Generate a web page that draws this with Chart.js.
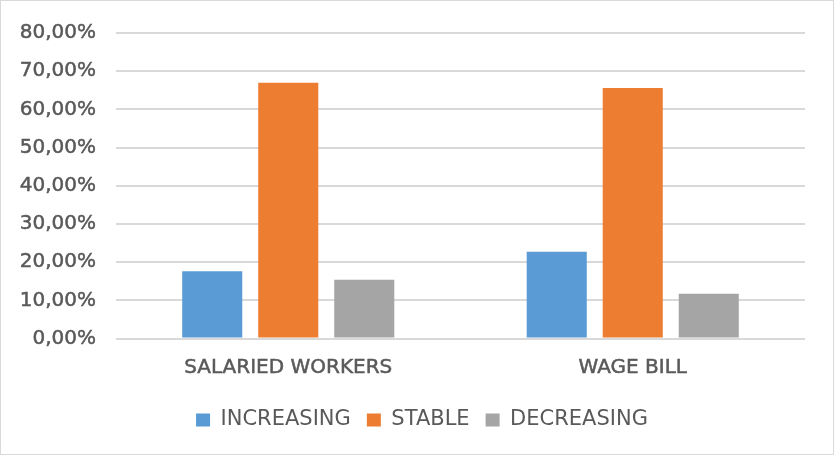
<!DOCTYPE html>
<html>
<head>
<meta charset="utf-8">
<script src="https://cdn.jsdelivr.net/npm/chart.js@4/dist/chart.umd.min.js"></script>
<style>
  html, body { margin: 0; padding: 0; background: #fff; }
  #wrap { position: relative; width: 834px; height: 455px; box-sizing: border-box; border: 1px solid #d9d9d9; }
  canvas { display: block; }
</style>
</head>
<body>
<div id="wrap"><canvas id="barChart" width="832" height="453"></canvas></div>
<script>
const categories = ['SALARIED WORKERS', 'WAGE BILL'];
const increasing = [17.6, 22.7];
const stable = [67.0, 65.6];
const decreasing = [15.4, 11.7];
const tickValues = [0, 10, 20, 30, 40, 50, 60, 70, 80];

const FONT = "'DejaVu Sans', sans-serif";
const TEXT = '#595959';

// nudge the legend row so it sits centred under the whole frame
const legendShift = {
    id: 'legendShift',
    afterLayout(chart) {
        chart.legend.left += 19;
        chart.legend.right += 19;
    }
};

const ctx = document.getElementById('barChart').getContext('2d');

new Chart(ctx, {
    type: 'bar',
    data: {
        labels: categories,
        datasets: [
            { label: 'INCREASING', data: increasing, backgroundColor: '#5b9bd5' },
            { label: 'STABLE', data: stable, backgroundColor: '#ed7d31' },
            { label: 'DECREASING', data: decreasing, backgroundColor: '#a5a5a5' }
        ]
    },
    plugins: [legendShift],
    options: {
        responsive: false,
        animation: false,
        datasets: {
            bar: { categoryPercentage: 0.662, barPercentage: 0.79 }
        },
        layout: { padding: { top: 23.5, right: 28, left: 0, bottom: 13.5 } },
        scales: {
            x: {
                afterFit: (axis) => { axis.height = 55; },
                grid: { display: false, drawTicks: false },
                border: { display: false },
                ticks: {
                    color: TEXT,
                    font: { family: FONT, size: 20 },
                    textStrokeColor: TEXT,
                    textStrokeWidth: 0.5,
                    padding: 17.5
                }
            },
            y: {
                min: 0,
                max: 80,
                afterFit: (axis) => { axis.width = 115; },
                afterBuildTicks: (axis) => { axis.ticks = tickValues.map(v => ({ value: v })); },
                grid: { color: '#d9d9d9', lineWidth: 2, drawTicks: false },
                border: { display: false },
                ticks: {
                    color: TEXT,
                    font: { family: FONT, size: 20 },
                    textStrokeColor: TEXT,
                    textStrokeWidth: 0.5,
                    padding: 20,
                    callback: (v) => v.toFixed(2).replace('.', ',') + '%'
                }
            }
        },
        plugins: {
            legend: {
                position: 'bottom',
                labels: {
                    color: TEXT,
                    font: { family: FONT, size: 21 },
                    boxWidth: 14,
                    boxHeight: 13,
                    padding: 16
                }
            },
            tooltip: { enabled: false }
        }
    }
});
</script>
</body>
</html>
